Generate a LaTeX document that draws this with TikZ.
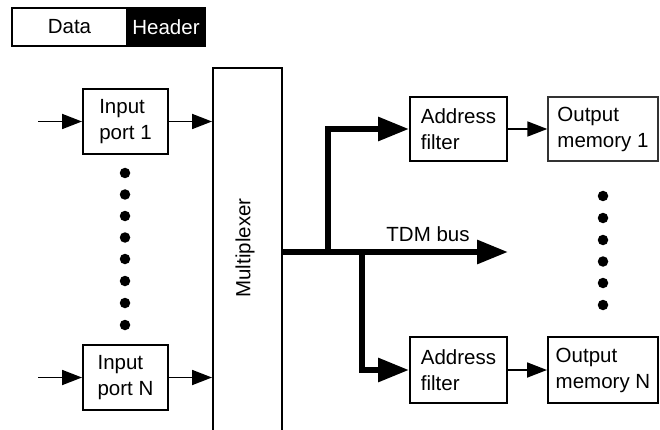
\documentclass[tikz,border=0pt]{standalone}
\usepackage{fontspec}
\setmainfont{Liberation Sans}
\usetikzlibrary{arrows.meta}
\begin{document}
\begin{tikzpicture}[x=1pt,y=-1pt,
  font=\fontsize{20.5}{26}\selectfont,
  blk/.style={draw, line width=2pt, align=left, inner sep=0pt, fill=white},
  thin/.style={line width=1.8pt, -{Triangle[length=20pt,width=15pt]}},
  thick/.style={line width=6pt, -{Triangle[length=31pt,width=23pt]}},
  dot/.style={circle, fill=black, inner sep=0pt, minimum size=10.5pt}
]
\useasboundingbox (0,0) rectangle (660,430);

% frame format legend
\node[blk, minimum width=115pt, minimum height=38pt] (data) at (69.5,27) {Data};
\node[blk, fill=black, text=white, minimum width=78pt, minimum height=38pt] (hdr) at (166,27) {Header};

% input ports
\node[blk, minimum width=85pt, minimum height=65pt] (in1) at (125.5,121.5) {Input\\port 1};
\node[blk, minimum width=85pt, minimum height=65pt] (inN) at (125.5,377.5) {Input\\port N};
\coordinate (src1) at (38,121.5);
\coordinate (srcN) at (38,377.5);

% multiplexer, running off the lower edge
\node[blk, minimum width=69pt, minimum height=372pt] (mux) at (247.5,254) {};
\node[rotate=90] (muxlbl) at (245,248) {Multiplexer};

% address filters and output memories
\node[blk, minimum width=97pt, minimum height=64pt] (af1) at (458.5,129) {Address\\filter};
\node[blk, line width=1.4pt, draw=black!80, minimum width=110pt, minimum height=64pt] (om1) at (603,129) {Output\\memory 1};
\node[blk, minimum width=97pt, minimum height=66pt] (afN) at (458.5,370) {Address\\filter};
\node[blk, minimum width=110pt, minimum height=66pt] (omN) at (603,370) {Output\\memory N};

% ellipsis dots
\foreach \y [count=\i] in {173,194.5,216,237.5,259,281,303,325}
  \node[dot] (ldot\i) at (125,\y) {};
\foreach \y [count=\i] in {196,218,240,261.5,283,305}
  \node[dot] (rdot\i) at (603,\y) {};

% input connectors
\draw[thin] (src1) -- (in1.west);
\draw[thin] (srcN) -- (inN.west);
\draw[thin] (in1.east) -- (mux.west |- in1.east);
\draw[thin] (inN.east) -- (mux.west |- inN.east);

% TDM bus
\coordinate (busstart) at (mux.east |- 0,252);
\coordinate (busend) at (508,252);
\coordinate (tap1) at (328,252);
\coordinate (tapN) at (362,252);
\draw[thick] (busstart) -- (busend);
\node (buslbl) at (428,234) {TDM bus};

% taps to the address filters
\draw[thick] (tap1) -- (tap1 |- af1.west) -- (af1.west);
\draw[thick] (tapN) -- (tapN |- afN.west) -- (afN.west);

% filter to memory
\draw[thin] (af1.east) -- (om1.west);
\draw[thin] (afN.east) -- (omN.west);
\end{tikzpicture}
\end{document}
